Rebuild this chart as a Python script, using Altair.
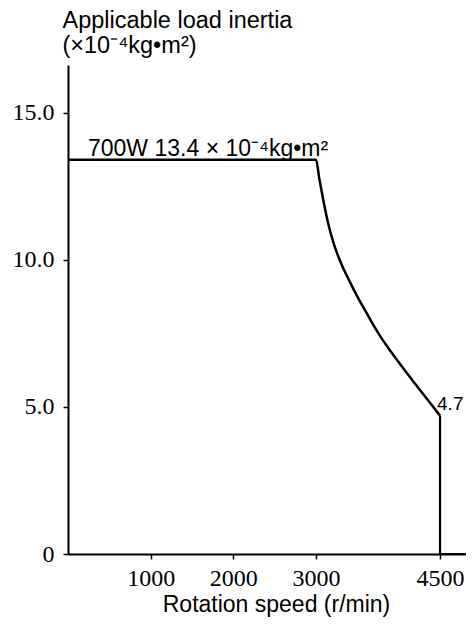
import altair as alt
import pandas as pd

# Applicable load inertia curve (x10^-4 kg·m^2) vs rotation speed (r/min)
curve_speed = [0, 3000, 3040, 3090, 3150, 3220, 3300, 3400, 3500, 3620, 3700,
               3780, 3870, 3960, 4080, 4200, 4350, 4500]
curve_inertia = [13.4, 13.4, 12.75, 12.0, 11.2, 10.5, 9.9, 9.3, 8.75, 8.15, 7.75,
                 7.39, 7.02, 6.67, 6.22, 5.78, 5.24, 4.7]
drop_speed = [4500, 4500, 4814]
drop_inertia = [4.7, 0, 0]

x_ticks = [1000, 2000, 3000, 4500]
y_ticks = [0, 5, 10, 15]
x_domain = [0, 4814]
y_domain = [0, 16.62]

ann_main_x = [0]
ann_main_y = [13.4]
ann_main_text = ["700W 13.4 × 10⁻⁴kg•m²"]

ann_end_x = [4500]
ann_end_y = [4.7]
ann_end_text = ["4.7"]

df_curve = pd.DataFrame({"speed": curve_speed, "inertia": curve_inertia})
df_drop = pd.DataFrame({"speed": drop_speed, "inertia": drop_inertia,
                        "order": list(range(len(drop_speed)))})
df_main = pd.DataFrame({"speed": ann_main_x, "inertia": ann_main_y, "label": ann_main_text})
df_end = pd.DataFrame({"speed": ann_end_x, "inertia": ann_end_y, "label": ann_end_text})

X = alt.X(
    "speed:Q",
    scale=alt.Scale(domain=x_domain, nice=False, zero=False),
    axis=alt.Axis(
        values=x_ticks, format="d", title="Rotation speed (r/min)",
        labelFont="Liberation Serif", labelFontSize=24, labelColor="black",
        labelBaseline="alphabetic", labelPadding=26,
        tickSize=5, tickWidth=1.5, tickColor="black",
        domainColor="black", domainWidth=2,
        titleFont="Liberation Sans", titleFontSize=23, titleFontWeight="normal",
        titleColor="black", titleBaseline="alphabetic", titleAlign="center",
        titleX=208, titleY=57, grid=False, labelFlush=False, labelOverlap=False,
    ),
)
Y = alt.Y(
    "inertia:Q",
    scale=alt.Scale(domain=y_domain, nice=False, zero=False),
    axis=alt.Axis(
        values=y_ticks, format=".1f",
        labelExpr="datum.value == 0 ? '0' : datum.label",
        title=["Applicable load inertia", "(×10⁻⁴kg•m²)"],
        labelFont="Liberation Serif", labelFontSize=24, labelColor="black",
        labelPadding=9, tickSize=5, tickWidth=1.5, tickColor="black",
        domainColor="black", domainWidth=2,
        titleFont="Liberation Sans", titleFontSize=23.5, titleFontWeight="normal",
        titleColor="black", titleAngle=0, titleAlign="left", titleBaseline="alphabetic",
        titleX=-6, titleY=-38, titleLineHeight=25, grid=False,
        labelFlush=False, labelOverlap=False,
    ),
)

curve = alt.Chart(df_curve).mark_line(
    color="black", strokeWidth=2.5, interpolate="monotone"
).encode(x=X, y=Y)

drop = alt.Chart(df_drop).mark_line(color="black", strokeWidth=2.2).encode(
    x=X, y=Y, order="order:Q"
)

txt_main = alt.Chart(df_main).mark_text(
    align="left", baseline="alphabetic", dx=20, dy=-4,
    font="Liberation Sans", fontSize=23, color="black",
).encode(x=X, y=Y, text="label:N")

txt_end = alt.Chart(df_end).mark_text(
    align="left", baseline="alphabetic", dx=-3, dy=-6,
    font="Liberation Sans", fontSize=19, color="black",
).encode(x=X, y=Y, text="label:N")

chart = (
    alt.layer(curve, drop, txt_main, txt_end)
    .properties(
        width=398, height=489,
        autosize=alt.AutoSizeParams(type="none"),
        padding={"left": 60, "top": 57, "right": 0, "bottom": 64},
        background="white",
    )
    .configure_view(stroke=None)
)

chart.save("out.html", embed_options={"renderer": "svg", "actions": False})
